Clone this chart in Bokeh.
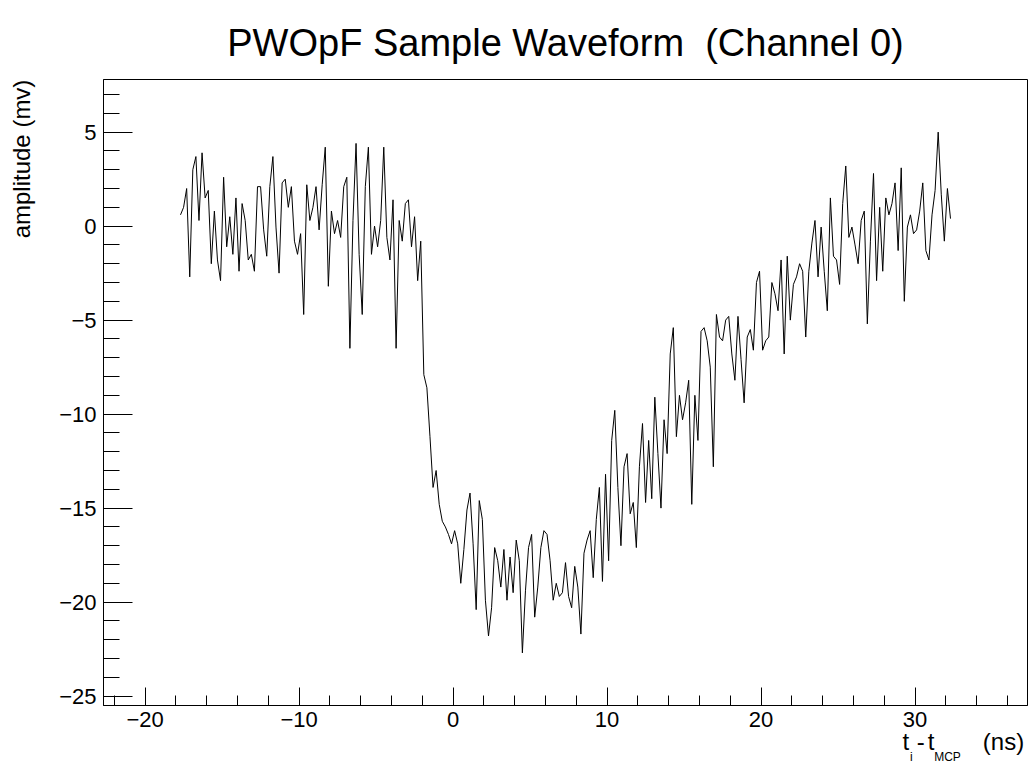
import numpy as np
from bokeh.plotting import figure
from bokeh.models import (Range1d, SingleIntervalTicker, FixedTicker, ColumnDataSource,
                          LinearAxis)
from bokeh.embed import file_html
from bokeh.resources import INLINE

# ---- data ----
t_start = -17.7   # ns, first sample
t_step = 0.2      # ns, sampling interval

amp_pre = [0.6, 1.0, 2.0, -2.7, 3.0, 3.7, 0.3, 3.9, 1.5, 1.9,
           -2.0, 0.8, -1.8, -2.9, 2.6, -1.1, 0.5, -1.5, 1.5, -2.4,
           1.2, 0.3, -1.8, -1.5, -2.4, 2.1, 2.1, -0.2, -1.6, 2.1,
           3.7, -0.05, -2.5, 2.3, 2.5, 1.0, 2.1, -0.8, -1.5, -0.4,
           -4.7, 2.2, 0.3, 1.0, 2.1, -0.2, 2.2, 4.2, -3.2, 0.8,
           -0.4, 0.3, -0.6, 2.1, 2.6, -6.5, 0.3, 4.4, -1.5, -4.7,
           2.1, 4.2, -1.5, 0.0, -1.1, 0.3, 4.2, -0.6, -1.8, 1.4,
           -6.5, 0.3, -0.8, 1.2, 1.4, -1.1, 0.5, -2.9, -0.8]
amp_edge = [-7.9, -8.6, -11.2, -13.9, -13.0, -14.8, -15.7]
amp_peak = [-16.0, -16.4, -16.9, -16.2, -16.9, -19.0, -17.2, -15.1, -14.2, -16.9,
            -20.4, -14.6, -15.6, -19.9, -21.8, -20.3, -17.1, -17.8, -19.2, -17.2,
            -19.9, -17.6, -19.5, -16.7, -17.8, -22.7, -19.4, -17.1, -16.4, -20.8,
            -19.2, -17.1, -16.2, -16.4, -17.8,
            -19.9, -19.0, -19.7, -19.5, -17.9, -19.7, -20.3, -18.1, -19.2, -21.7,
            -17.4, -16.7, -16.2, -18.7, -15.6, -13.9, -18.9, -13.2, -17.8, -11.4,
            -9.8, -13.9, -17.0, -12.8, -12.1, -15.3, -14.7, -17.1, -12.8, -10.5,
            -14.7, -11.4, -14.5]
amp_tail = [-9.1, -12.1, -15.0, -10.3, -12.1, -6.8, -5.4, -11.2, -9.0, -10.3,
            -9.4, -8.2, -14.8, -9.0, -11.4, -5.6, -5.4, -6.1, -7.5, -12.8,
            -4.7, -5.9, -6.1, -5.0, -4.8,
            -6.8, -8.2, -4.8, -7.1, -9.4, -5.9, -5.5, -6.6, -3.0, -2.4,
            -6.6, -6.1, -5.9, -3.0, -3.6, -4.5, -1.8, -6.8, -1.6, -5.0,
            -3.1, -2.7, -2.0, -2.4, -5.9, -2.4, -0.9, 0.3, -2.7, -0.05,
            -2.4, -4.5, 1.5, -1.6, -1.8, -3.1, 1.2, 3.2, -0.6,
            -0.05, -1.0, -2.0, 0.3, 0.8, -5.2, -0.8, 2.8, -2.9, 1.0,
            -2.4, 1.5, 0.6, 1.2, 2.3, -1.3, 3.1, -4.0, -0.05, 0.6,
            -0.4, -0.2, 0.8, 2.3, -1.3, -1.8, 0.6, 1.9, 5.0, 1.7,
            -0.8, 2.0, 0.4]

amplitude = amp_pre + amp_edge + amp_peak + amp_tail
time_ns = np.round(t_start + t_step * np.arange(len(amplitude)), 2)

x_ticks_labels = {-20: "\u221220", -10: "\u221210", 0: "0", 10: "10", 20: "20", 30: "30"}
y_ticks_labels = {-25: "\u221225", -20: "\u221220", -15: "\u221215", -10: "\u221210",
                  -5: "\u22125", 0: "0", 5: "5"}

title_text = "PWOpF Sample Waveform \u00a0(Channel 0)"
ylabel_text = "amplitude (mv)"
# x-axis title "t_i - t_MCP (ns)": main-size pieces and subscript pieces
xtitle_main = ["t", "-", "t", "(ns)"]
xtitle_sub = ["i", "MCP"]

FONT = "Liberation Sans"
XMIN, XMAX = -22.7, 37.3
YMIN, YMAX = -25.5, 7.8
FL, FT, FW, FH = 103, 79, 924, 626   # frame left/top/width/height (px)

p = figure(width=1033, height=768,
           x_range=Range1d(XMIN, XMAX), y_range=Range1d(YMIN, YMAX),
           output_backend="svg", toolbar_location=None,
           min_border_left=FL, min_border_right=1033 - FL - FW,
           min_border_top=FT, min_border_bottom=768 - FT - FH)
p.grid.visible = False
p.outline_line_color = "black"
p.outline_line_width = 1
p.background_fill_color = "white"
p.border_fill_color = "white"

src = ColumnDataSource(dict(t=time_ns, a=amplitude))
p.line("t", "a", source=src, line_color="black", line_width=1)

# axes
p.xaxis.ticker = SingleIntervalTicker(interval=10, num_minor_ticks=5)
p.yaxis.ticker = SingleIntervalTicker(interval=5, num_minor_ticks=5)
p.xaxis.major_label_overrides = x_ticks_labels
p.yaxis.major_label_overrides = y_ticks_labels
for ax in (p.xaxis[0], p.yaxis[0]):
    ax.axis_line_color = "black"
    ax.major_tick_line_color = "black"
    ax.minor_tick_line_color = "black"
    ax.major_tick_out = 0
    ax.minor_tick_out = 0
    ax.major_label_text_font = FONT
    ax.major_label_text_font_size = "22px"
    ax.major_label_text_color = "black"
p.xaxis.major_tick_in = 18
p.xaxis.minor_tick_in = 10
p.yaxis.major_tick_in = 29
p.yaxis.minor_tick_in = 16
p.xaxis.major_label_standoff = 6
p.yaxis.major_label_standoff = 7

# title
p.title.text = title_text
p.title.align = "center"
p.title.text_font = FONT
p.title.text_font_size = "38px"
p.title.text_font_style = "normal"
p.title.text_color = "black"
p.title.standoff = 31


def px_to_x(px):
    return XMIN + (px - FL) * (XMAX - XMIN) / FW


def py_to_y(py):
    return YMAX - (py - FT) * (YMAX - YMIN) / FH


def text_axis(texts, positions, size, standoff, side, orientation="horizontal"):
    ticks = [round(v, 3) for v in positions]
    ax = LinearAxis(ticker=FixedTicker(ticks=ticks, minor_ticks=[]),
                    major_label_overrides=dict(zip(ticks, texts)),
                    axis_line_color=None, major_tick_line_color=None,
                    minor_tick_line_color=None, major_tick_out=0, major_tick_in=0,
                    major_label_standoff=standoff,
                    major_label_orientation=orientation,
                    major_label_text_font=FONT, major_label_text_font_size=size,
                    major_label_text_color="black")
    p.add_layout(ax, side)


# y title (label-only axis, rotated text)
text_axis([ylabel_text], [py_to_y(158.5)], "24px", 21, "left", "vertical")

# x title, built from two label-only axes (normal size + subscripts)
text_axis(xtitle_main, [px_to_x(c) for c in (905.3, 920.3, 930.6, 1003.0)], "24px", -2, "below")
text_axis(xtitle_sub, [px_to_x(c) for c in (910.8, 947.0)], "12px", -8, "below")

open("out.html", "w").write(file_html(p, INLINE))
